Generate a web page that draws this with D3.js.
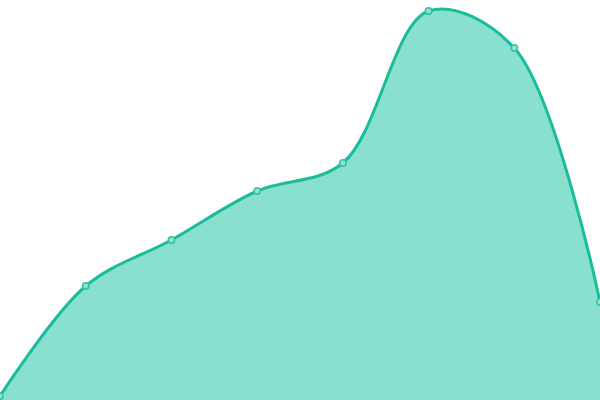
<!DOCTYPE html>
<html>
<head>
<meta charset="utf-8">
<script src="https://cdn.jsdelivr.net/npm/d3@7"></script>
<style>
  html, body { margin: 0; padding: 0; background: #fff; }
  svg { display: block; }
</style>
</head>
<body>
<svg id="chart"></svg>
<script>
// Data
const categories = ["P1", "P2", "P3", "P4", "P5", "P6", "P7", "P8"];
const values = [4, 114, 160, 209, 237, 389, 352, 98];

const width = 600;
const height = 400;

const svg = d3.select("#chart")
  .attr("width", width)
  .attr("height", height);

// Scales
const xScale = d3.scalePoint()
  .domain(categories)
  .range([0, width]);

const yScale = d3.scaleLinear()
  .domain([0, 400])
  .range([height, 0]);

// Area + line
const area = d3.area()
  .x(d => xScale(d.cat))
  .y0(height)
  .y1(d => yScale(d.value))
  .curve(d3.curveCatmullRom);

const line = d3.line()
  .x(d => xScale(d.cat))
  .y(d => yScale(d.value))
  .curve(d3.curveCatmullRom);

const data = categories.map((c, i) => ({ cat: c, value: values[i] }));

svg.append("path")
  .datum(data)
  .attr("fill", "#89e0cf")
  .attr("d", area);

svg.append("path")
  .datum(data)
  .attr("fill", "none")
  .attr("stroke", "#1abc9c")
  .attr("stroke-width", 3)
  .attr("d", line);

// Dots
svg.selectAll(".dot")
  .data(data)
  .enter()
  .append("circle")
  .attr("class", "dot")
  .attr("cx", d => xScale(d.cat))
  .attr("cy", d => yScale(d.value))
  .attr("r", 3.2)
  .attr("fill", "#8ee2d1")
  .attr("stroke", "#36c2a6")
  .attr("stroke-width", 1.5);
</script>
</body>
</html>
